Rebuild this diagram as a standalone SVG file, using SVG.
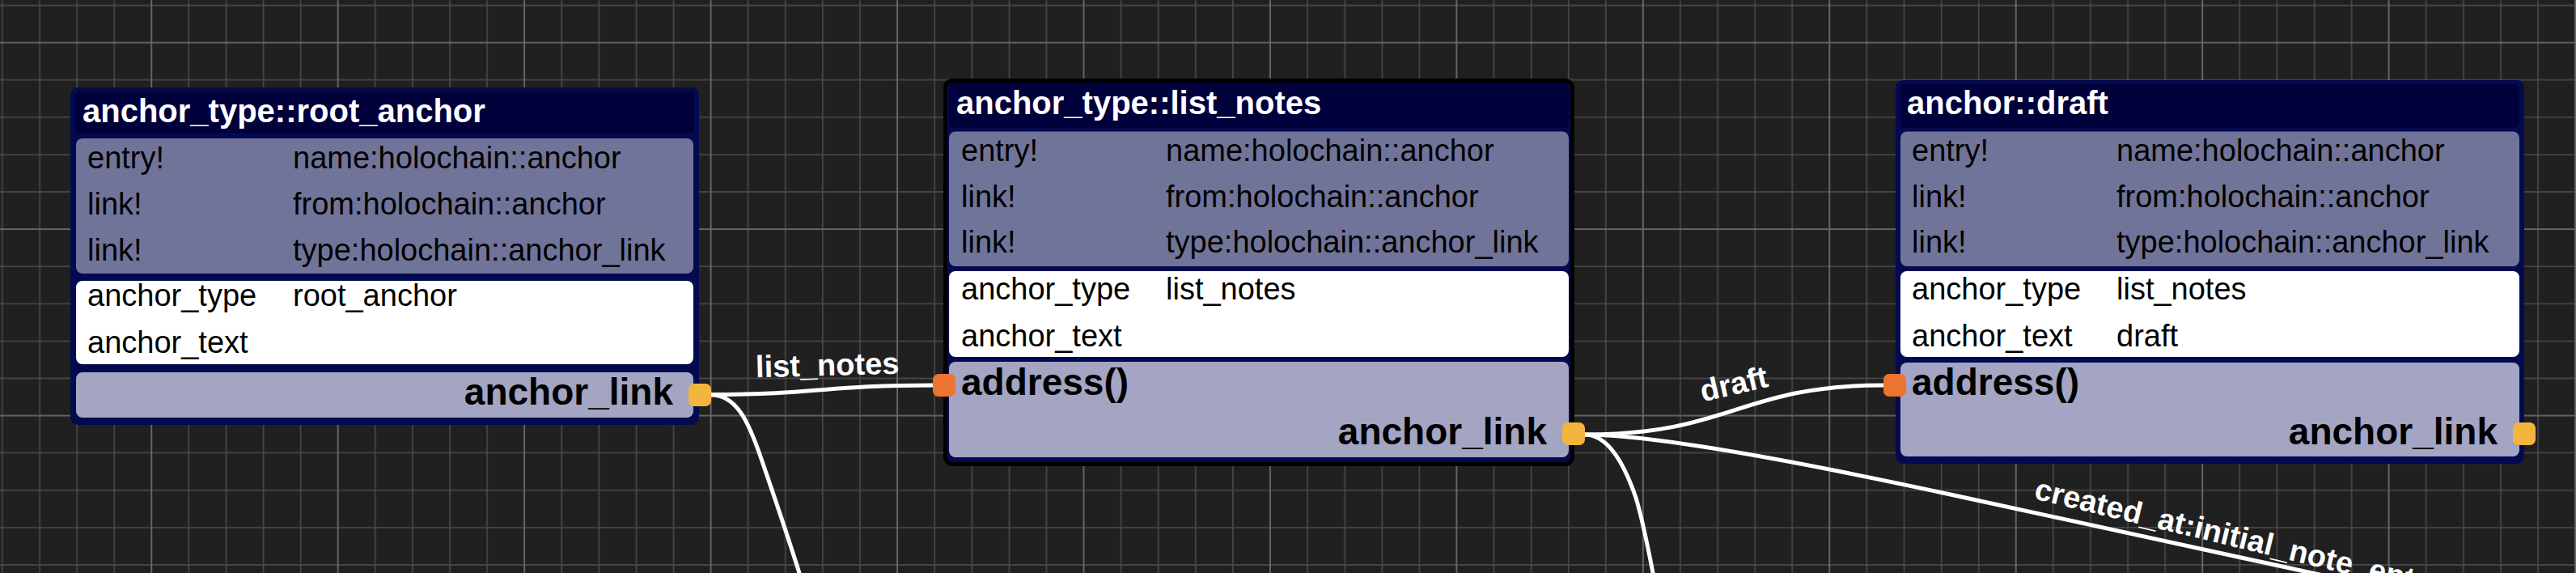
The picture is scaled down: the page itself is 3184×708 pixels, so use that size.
<svg xmlns="http://www.w3.org/2000/svg" width="3184" height="708" viewBox="0 0 3184 708">
<defs>
<pattern id="grid" patternUnits="userSpaceOnUse" x="164.255" y="29.655" width="230.45" height="230.45">
<g stroke="#4a4a4a" stroke-width="1.6" fill="none">
<path d="M69.135 0V230.45M115.225 0V230.45M161.315 0V230.45M207.405 0V230.45M0 69.135H230.45M0 115.225H230.45M0 161.315H230.45M0 207.405H230.45"/>
</g>
<path d="M23.045 0V230.45M0 23.045H230.45" stroke="#6a6a6a" stroke-width="1.8" fill="none"/>
</pattern>
<style>
.frame{fill:#040a50}
.sel{stroke:#000;stroke-width:5}
.title{fill:#00003a}
.tt{font-family:"Liberation Sans",Arial,sans-serif;font-weight:bold;font-size:40px;fill:#fff}
.meta{fill:#717499}
.fields{fill:#fff}
.portsec{fill:#a3a5c3}
.row{font-family:"Liberation Sans",Arial,sans-serif;font-size:38px;fill:#000}
.pl{font-family:"Liberation Sans",Arial,sans-serif;font-weight:bold;font-size:46px;fill:#000}
.out{fill:#f2b53e}
.in{fill:#ec7431}
.wire{fill:none;stroke:#fff;stroke-width:5}
.wl{font-family:"Liberation Sans",Arial,sans-serif;font-weight:bold;font-size:38px;fill:#fff}
</style>
</defs>
<rect width="3184" height="708" fill="#202020"/>
<rect width="3184" height="708" fill="url(#grid)"/>

<g id="connectors">
<path class="wire" d="M879 487.5C1010 487.5 1020 476 1154 476"/>
<path class="wire" d="M879 488C910 488 925 520 941 567C955 608 975 665 998 740"/>
<path class="wire" d="M1959 537C2140 537 2150 476 2328 476"/>
<path class="wire" d="M1959 537C1990 537 2010 580 2022 615C2032 648 2040 690 2050 745"/>
<path class="wire" d="M1959 537C2060 537 2300 587 2420 613L2950 728"/>
<text class="wl" x="1023" y="464" text-anchor="middle" transform="rotate(-1.5 1023 464)">list_notes</text>
<text class="wl" x="2146" y="487" text-anchor="middle" transform="rotate(-13 2146 487)">draft</text>
<text class="wl" x="2513" y="616" transform="rotate(13.5 2513 616)">created_at:initial_note_entry</text>
</g>

<g id="node-root-anchor">
<rect class="frame" x="87" y="108" width="777" height="417" rx="9"/>
<rect class="title" x="93" y="113" width="765" height="52" rx="6"/>
<text class="tt" x="102" y="151">anchor_type::root_anchor</text>
<rect class="meta" x="94" y="171" width="763" height="167" rx="8"/>
<text class="row" x="108" y="208">entry!</text>
<text class="row" x="362" y="208">name:holochain::anchor</text>
<text class="row" x="108" y="265">link!</text>
<text class="row" x="362" y="265">from:holochain::anchor</text>
<text class="row" x="108" y="321.5">link!</text>
<text class="row" x="362" y="321.5">type:holochain::anchor_link</text>
<rect class="fields" x="94" y="347" width="763" height="103" rx="8"/>
<text class="row" x="108" y="378">anchor_type</text>
<text class="row" x="362" y="378">root_anchor</text>
<text class="row" x="108" y="436">anchor_text</text>
<rect class="portsec" x="94" y="460" width="763" height="56" rx="8"/>
<text class="pl" x="832" y="500" text-anchor="end">anchor_link</text>
<rect class="out" x="851" y="474" width="28" height="28" rx="7"/>
</g>

<g id="node-list-notes">
<rect class="frame sel" x="1168.5" y="99.5" width="775" height="474" rx="9"/>
<rect class="title" x="1173" y="102" width="766" height="56" rx="6"/>
<text class="tt" x="1182" y="141">anchor_type::list_notes</text>
<rect class="meta" x="1173" y="162.5" width="766" height="166.5" rx="8"/>
<text class="row" x="1188" y="199">entry!</text>
<text class="row" x="1441" y="199">name:holochain::anchor</text>
<text class="row" x="1188" y="255.5">link!</text>
<text class="row" x="1441" y="255.5">from:holochain::anchor</text>
<text class="row" x="1188" y="312">link!</text>
<text class="row" x="1441" y="312">type:holochain::anchor_link</text>
<rect class="fields" x="1173" y="335" width="766" height="106" rx="8"/>
<text class="row" x="1188" y="370">anchor_type</text>
<text class="row" x="1441" y="370">list_notes</text>
<text class="row" x="1188" y="427.5">anchor_text</text>
<rect class="portsec" x="1173" y="447" width="766" height="118" rx="8"/>
<text class="pl" x="1188" y="488">address()</text>
<text class="pl" x="1912" y="549" text-anchor="end">anchor_link</text>
<rect class="in" x="1153" y="462" width="28" height="28" rx="7"/>
<rect class="out" x="1931" y="522" width="28" height="28" rx="7"/>
</g>

<g id="node-draft">
<rect class="frame" x="2343" y="99" width="777" height="474" rx="9"/>
<rect class="title" x="2349" y="104" width="765" height="54" rx="6"/>
<text class="tt" x="2357" y="141">anchor::draft</text>
<rect class="meta" x="2349" y="162.5" width="765" height="166.5" rx="8"/>
<text class="row" x="2363" y="199">entry!</text>
<text class="row" x="2616" y="199">name:holochain::anchor</text>
<text class="row" x="2363" y="255.5">link!</text>
<text class="row" x="2616" y="255.5">from:holochain::anchor</text>
<text class="row" x="2363" y="312">link!</text>
<text class="row" x="2616" y="312">type:holochain::anchor_link</text>
<rect class="fields" x="2349" y="335" width="765" height="106" rx="8"/>
<text class="row" x="2363" y="370">anchor_type</text>
<text class="row" x="2616" y="370">list_notes</text>
<text class="row" x="2363" y="427.5">anchor_text</text>
<text class="row" x="2616" y="427.5">draft</text>
<rect class="portsec" x="2349" y="448" width="765" height="116" rx="8"/>
<text class="pl" x="2363" y="488">address()</text>
<text class="pl" x="3087" y="549" text-anchor="end">anchor_link</text>
<rect class="in" x="2328" y="462" width="28" height="28" rx="7"/>
<rect class="out" x="3106" y="522" width="28" height="28" rx="7"/>
</g>
</svg>
